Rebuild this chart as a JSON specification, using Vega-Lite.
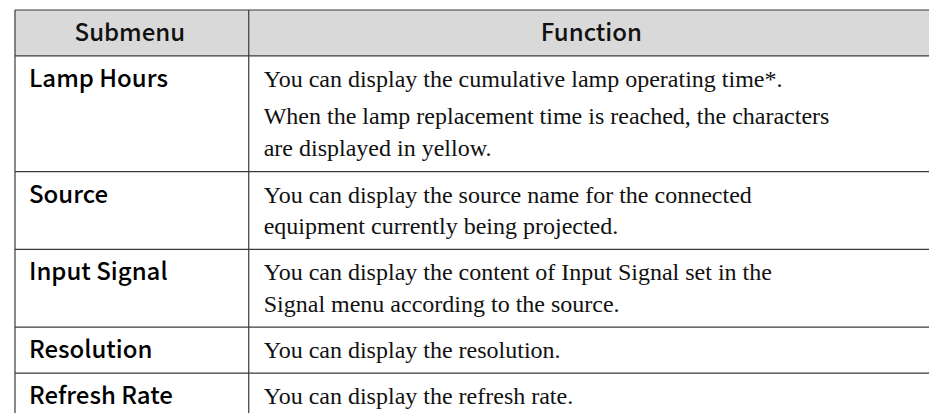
{
  "$schema": "https://vega.github.io/schema/vega-lite/v6.json",
  "width": 930,
  "height": 414,
  "autosize": {"type": "fit", "contains": "padding"},
  "padding": 0,
  "background": "white",
  "config": {"view": {"stroke": null}},
  "datasets": {
    "header": [{"x0": 15, "x1": 930, "y0": 10, "y1": 56}],
    "hlines": [
      {"y": 10, "x0": 15, "x1": 930},
      {"y": 56, "x0": 15, "x1": 930},
      {"y": 172, "x0": 15, "x1": 930},
      {"y": 250, "x0": 15, "x1": 930},
      {"y": 328, "x0": 15, "x1": 930},
      {"y": 374, "x0": 15, "x1": 930}
    ],
    "vlines": [
      {"x": 15, "y0": 10, "y1": 414},
      {"x": 249, "y0": 10, "y1": 414}
    ],
    "heads": [
      {"label": "Submenu", "x": 130, "y": 41},
      {"label": "Function", "x": 592, "y": 41}
    ],
    "submenu": [
      {"label": "Lamp Hours", "x": 29, "y": 87},
      {"label": "Source", "x": 29, "y": 203},
      {"label": "Input Signal", "x": 29, "y": 281},
      {"label": "Resolution", "x": 29, "y": 359},
      {"label": "Refresh Rate", "x": 29, "y": 405}
    ],
    "function": [
      {"label": "You can display the cumulative lamp operating time*.", "x": 264, "y": 87},
      {"label": "When the lamp replacement time is reached, the characters", "x": 264, "y": 124},
      {"label": "are displayed in yellow.", "x": 264, "y": 156},
      {"label": "You can display the source name for the connected", "x": 264, "y": 203},
      {"label": "equipment currently being projected.", "x": 264, "y": 235},
      {"label": "You can display the content of Input Signal set in the", "x": 264, "y": 281},
      {"label": "Signal menu according to the source.", "x": 264, "y": 313},
      {"label": "You can display the resolution.", "x": 264, "y": 359},
      {"label": "You can display the refresh rate.", "x": 264, "y": 405}
    ]
  },
  "layer": [
    {
      "data": {"name": "header"},
      "mark": {"type": "rect", "color": "#d9d9d9"},
      "encoding": {
        "x": {"field": "x0", "type": "quantitative", "scale": {"domain": [0, 930], "nice": false, "zero": false}, "axis": null},
        "x2": {"field": "x1"},
        "y": {"field": "y0", "type": "quantitative", "scale": {"domain": [0, 414], "nice": false, "zero": false, "reverse": true}, "axis": null},
        "y2": {"field": "y1"}
      }
    },
    {
      "data": {"name": "hlines"},
      "mark": {"type": "rule", "color": "#3a3a3a", "strokeWidth": 1.2},
      "encoding": {
        "x": {"field": "x0", "type": "quantitative"},
        "x2": {"field": "x1"},
        "y": {"field": "y", "type": "quantitative"}
      }
    },
    {
      "data": {"name": "vlines"},
      "mark": {"type": "rule", "color": "#3a3a3a", "strokeWidth": 1.2},
      "encoding": {
        "x": {"field": "x", "type": "quantitative"},
        "y": {"field": "y0", "type": "quantitative"},
        "y2": {"field": "y1"}
      }
    },
    {
      "data": {"name": "heads"},
      "mark": {"type": "text", "align": "center", "baseline": "alphabetic", "font": "Noto Sans CJK KR", "fontSize": 24, "fontWeight": 500, "color": "#111111"},
      "encoding": {
        "x": {"field": "x", "type": "quantitative"},
        "y": {"field": "y", "type": "quantitative"},
        "text": {"field": "label"}
      }
    },
    {
      "data": {"name": "submenu"},
      "mark": {"type": "text", "align": "left", "baseline": "alphabetic", "font": "Noto Sans CJK KR", "fontSize": 24, "fontWeight": 500, "color": "#000000"},
      "encoding": {
        "x": {"field": "x", "type": "quantitative"},
        "y": {"field": "y", "type": "quantitative"},
        "text": {"field": "label"}
      }
    },
    {
      "data": {"name": "function"},
      "mark": {"type": "text", "align": "left", "baseline": "alphabetic", "font": "Liberation Serif", "fontSize": 24, "color": "#111111"},
      "encoding": {
        "x": {"field": "x", "type": "quantitative"},
        "y": {"field": "y", "type": "quantitative"},
        "text": {"field": "label"}
      }
    }
  ]
}
